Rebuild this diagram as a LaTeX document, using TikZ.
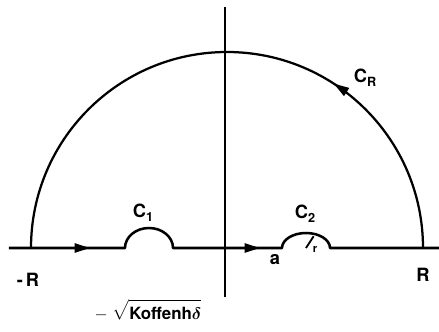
\documentclass[tikz,border=0pt]{standalone}
\usepackage{amsmath}
\usepackage{fontspec}
\setsansfont{TeX Gyre Heros}
\usetikzlibrary{arrows.meta}
\newcommand{\csub}[2]{#1\raisebox{-0.45ex}{\fontsize{9}{9}\selectfont #2}}
\begin{document}
\begin{tikzpicture}[x=0.025cm,y=0.025cm,line width=1.6pt,line join=round,
  every node/.style={font=\sffamily\bfseries\fontsize{13}{15}\selectfont},
  arr/.style={-{Triangle[length=11pt,width=6.5pt]}}]
\useasboundingbox (-225,-83) rectangle (214,248);
% axes
\coordinate (O) at (0,0);
\coordinate (top) at (0,241);
\coordinate (bot) at (0,-49);
\draw (bot) -- (top);
% contour along the real axis with indentations
\coordinate (c1) at (-76,0);
\coordinate (c2) at (81,0);
\draw[line width=1.8pt] (-216,0) -- (-100,0) arc[start angle=180,end angle=0,x radius=24,y radius=20]
  -- (57,0) arc[start angle=180,end angle=0,x radius=24,y radius=15] -- (214,0);
\draw[line width=1.3pt] (c2) -- ++(57:14);
% large semicircle
\draw (-194,0) arc[start angle=180,end angle=0,radius=196];
% arrows
\draw[arr] (-152,0) -- (-135,0);
\draw[arr] (18,0) -- (35,0);
\draw[arr] (121.3,156.2) -- (108.7,164.4);
% labels
\node (lc1) at (-82,35) {\csub{C}{1}};
\node (lc2) at (80,34) {\csub{C}{2}};
\node (lcr) at (140,170) {\csub{C}{R}};
\node (lmr) at (-197,-32) {-\,R};
\node (lr) at (198,-27) {R};
\node (la) at (50,-12) {a};
\node[font=\sffamily\bfseries\fontsize{8}{8}\selectfont] (lrad) at (90,-1) {r};
\node[font=\sffamily\bfseries\fontsize{12}{14}\selectfont] (lroot) at (-77,-62)
  {$-$\;$\sqrt{\rule{0pt}{13pt}\mbox{Koffenh$\boldsymbol{\delta}$}}$};
\end{tikzpicture}
\end{document}
